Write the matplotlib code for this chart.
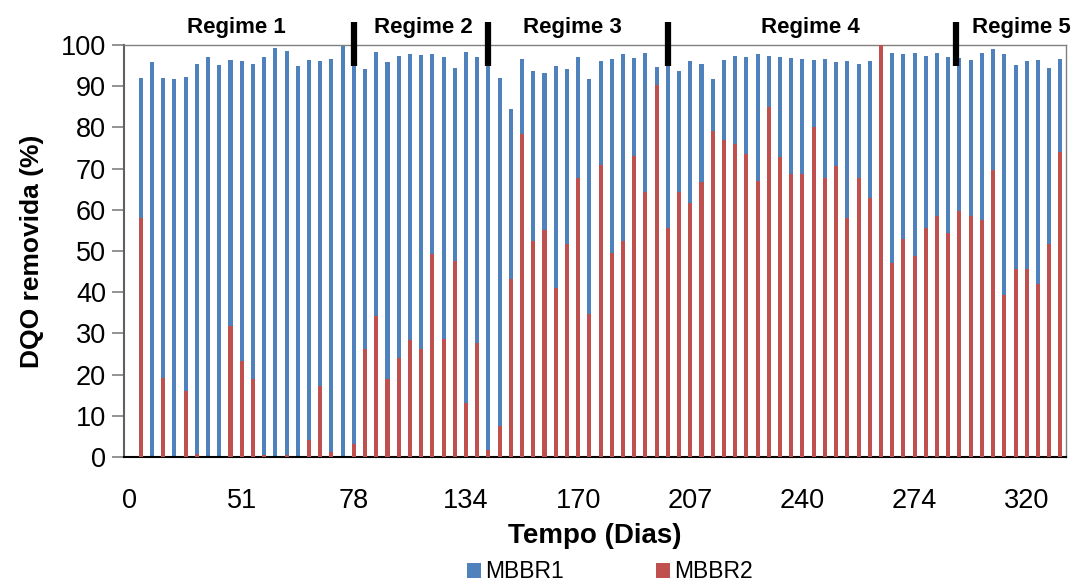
import numpy as np
import matplotlib
matplotlib.use("Agg")
import matplotlib.pyplot as plt

plt.rcParams['font.family'] = ['Liberation Sans', 'DejaVu Sans']

# % COD removal per sampling point (category 0 has no data)
mbbr1 = [np.nan,
         91.9, 95.9, 92.1, 91.7, 92.3, 95.3, 97.0, 95.1, 96.4, 96.2,
         95.5, 97.0, 99.2, 98.5, 95.0, 96.4, 96.1, 96.6, 100.0, 96.0,
         94.2, 98.2, 95.8, 97.3, 97.8, 97.6, 97.7, 97.2, 94.3, 98.2,
         97.1, 96.5, 91.9, 84.5, 96.5, 93.8, 93.2, 94.9, 94.1, 97.0,
         91.7, 96.0, 96.6, 97.7, 96.8, 98.1, 94.7, 95.0, 93.7, 96.1,
         95.3, 91.7, 96.4, 97.3, 97.1, 97.7, 97.4, 97.1, 96.8, 96.6,
         96.4, 96.5, 95.9, 96.0, 95.3, 96.1, 96.0, 98.1, 97.7, 98.1,
         97.3, 98.0, 97.2, 96.8, 96.4, 98.0, 99.0, 97.8, 95.2, 96.0,
         96.4, 94.3, 96.6]
mbbr2 = [np.nan,
         58.1, 0.0, 19.3, 0.0, 16.0, 0.8, 0.0, 0.0, 31.8, 23.4,
         18.9, 0.4, 0.0, 0.4, 0.0, 4.2, 17.3, 1.2, 0.0, 3.2,
         26.3, 34.3, 18.9, 24.0, 28.3, 26.1, 49.2, 28.6, 47.5, 13.0,
         27.7, 1.8, 7.5, 43.3, 78.5, 52.4, 55.1, 41.1, 51.8, 67.8,
         34.6, 70.8, 49.5, 52.4, 73.1, 64.4, 90.2, 55.7, 64.4, 61.6,
         66.7, 79.2, 76.9, 76.0, 73.6, 67.0, 84.9, 72.8, 68.7, 68.8,
         80.2, 67.6, 70.6, 58.1, 67.6, 62.8, 100.0, 47.0, 52.8, 48.8,
         55.7, 58.6, 54.3, 59.7, 58.6, 57.5, 69.6, 39.4, 45.6, 45.6,
         42.1, 51.8, 74.1]
tick_labels = ['0', '51', '78', '134', '170', '207', '240', '274', '320']
regimes = ['Regime 1', 'Regime 2', 'Regime 3', 'Regime 4', 'Regime 5']

blue = '#4F81BD'
red = '#C0504D'

fig = plt.figure(figsize=(10.76, 5.86), dpi=100)
ax = fig.add_axes([0.1152, 0.2201, 0.8755, 0.7031])

x = np.arange(len(mbbr1))
ax.bar(x, mbbr1, width=0.36, color=blue, label='MBBR1', zorder=2)
ax.bar(x, mbbr2, width=0.36, color=red, label='MBBR2', zorder=3)

ax.set_xlim(-0.5, len(mbbr1) - 0.5)
ax.set_ylim(0, 100)
ax.set_yticks(np.arange(0, 101, 10))
ax.set_xticks(np.arange(0, len(mbbr1), 10))
ax.set_xticklabels(tick_labels)
ax.tick_params(axis='x', length=0, labelsize=19.5, pad=22)
ax.tick_params(axis='y', length=9, width=1.2, color='#808080', labelsize=19.5, pad=4)

for side in ['top', 'right']:
    ax.spines[side].set_color('#808080')
    ax.spines[side].set_linewidth(1.0)
ax.spines['left'].set_color('#606060')
ax.spines['left'].set_linewidth(1.5)
ax.spines['bottom'].set_color('black')
ax.spines['bottom'].set_linewidth(1.5)

ax.set_xlabel('Tempo (Dias)', fontsize=20, fontweight='bold', labelpad=7)
ax.set_ylabel('DQO removida (%)', fontsize=19, fontweight='bold', labelpad=12)

# regime separators and names above the plot
for xs in [20, 32, 48, 73.7]:
    ax.plot([xs, xs], [94.9, 105.6], color='black', lw=4.5, clip_on=False, zorder=5,
            solid_capstyle='butt')
for name, xc in zip(regimes, [9.55, 26.2, 39.5, 60.7, 79.55]):
    ax.text(xc, 104.3, name, ha='center', va='center', fontsize=16,
            fontweight='bold', clip_on=False)

fig.legend(loc='center', bbox_to_anchor=(0.567, 0.024), ncol=2, frameon=False,
           fontsize=16.5, handlelength=0.6, handleheight=0.6, handletextpad=0.2,
           columnspacing=4.0)

fig.savefig('out.png', dpi=100)
